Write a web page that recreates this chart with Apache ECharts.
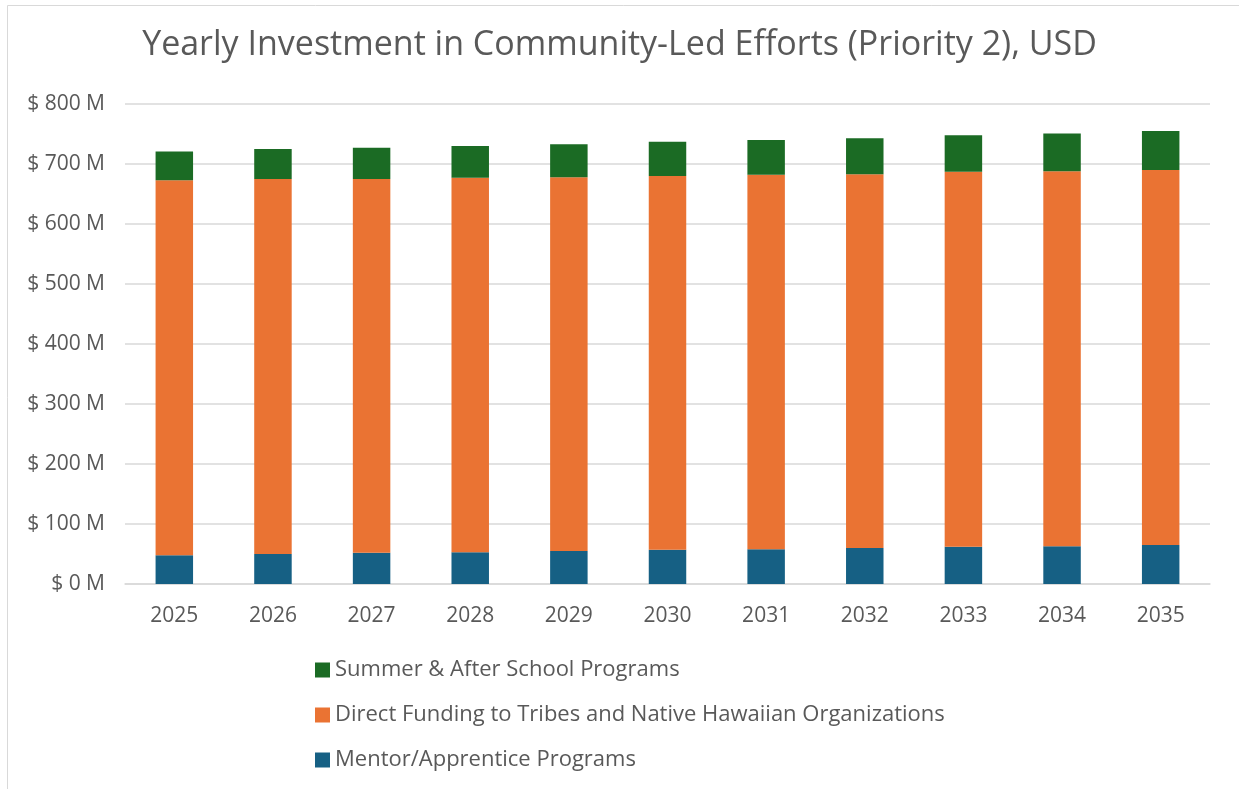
<!DOCTYPE html>
<html>
<head>
<meta charset="utf-8">
<script src="https://cdn.jsdelivr.net/npm/echarts@6/dist/echarts.min.js"></script>
<style>
  html, body { margin: 0; padding: 0; background: #fff; }
  #chart { width: 1239px; height: 789px; }
</style>
</head>
<body>
<div id="chart"></div>
<script>
// Yearly investment by program (millions of USD)
const years = ['2025', '2026', '2027', '2028', '2029', '2030', '2031', '2032', '2033', '2034', '2035'];
const mentorApprentice = [48, 50, 52, 53, 55, 57, 58, 60, 62, 63, 65];
const directFunding = [625, 625, 623, 624, 623, 623, 624, 623, 625, 625, 625];
const summerAfterSchool = [48, 50, 52, 53, 55, 57, 58, 60, 61, 63, 65];
const yTicks = [0, 100, 200, 300, 400, 500, 600, 700, 800];

const NAMES = {
  summer: 'Summer & After School Programs',
  direct: 'Direct Funding to Tribes and Native Hawaiian Organizations',
  mentor: 'Mentor/Apprentice Programs'
};
const COLORS = { summer: '#1B6B24', direct: '#EA7333', mentor: '#166084' };
const FONT = '"Open Sans", "Noto Sans", sans-serif';
const TEXT = '#595959';

const chart = echarts.init(document.getElementById('chart'));
chart.setOption({
  backgroundColor: '#fff',
  animation: false,
  graphic: [{
    type: 'rect',
    shape: { x: 7.5, y: 5.5, width: 1240, height: 790 },
    style: { fill: 'none', stroke: '#d9d9d9', lineWidth: 1 },
    silent: true
  }],
  title: {
    text: 'Yearly Investment in Community-Led Efforts (Priority 2), USD',
    left: 'center',
    top: 23,
    textStyle: { fontFamily: FONT, fontSize: 34, fontWeight: 'normal', color: TEXT }
  },
  grid: { left: 125, right: 29, top: 104, bottom: 205 },
  legend: {
    orient: 'vertical',
    left: 310,
    top: 653,
    itemWidth: 15,
    itemHeight: 15,
    itemGap: 21,
    icon: 'rect',
    data: [NAMES.summer, NAMES.direct, NAMES.mentor],
    textStyle: { fontFamily: FONT, fontSize: 22, color: TEXT, lineHeight: 24 }
  },
  xAxis: {
    type: 'category',
    data: years,
    axisLine: { lineStyle: { color: '#d9d9d9', width: 1.5 } },
    axisTick: { show: false },
    axisLabel: { fontFamily: FONT, fontSize: 21, color: TEXT, margin: 22 }
  },
  yAxis: {
    type: 'value',
    min: yTicks[0],
    max: yTicks[yTicks.length - 1],
    interval: 100,
    axisLine: { show: false },
    axisTick: { show: false },
    splitLine: { lineStyle: { color: '#d9d9d9', width: 1.5 } },
    axisLabel: {
      fontFamily: FONT, fontSize: 21, color: TEXT, margin: 20,
      formatter: v => '$ ' + v + ' M'
    }
  },
  series: [
    { name: NAMES.mentor, type: 'bar', stack: 'total', data: mentorApprentice,
      barWidth: '38%', itemStyle: { color: COLORS.mentor } },
    { name: NAMES.direct, type: 'bar', stack: 'total', data: directFunding,
      itemStyle: { color: COLORS.direct } },
    { name: NAMES.summer, type: 'bar', stack: 'total', data: summerAfterSchool,
      itemStyle: { color: COLORS.summer } }
  ]
});
</script>
</body>
</html>
